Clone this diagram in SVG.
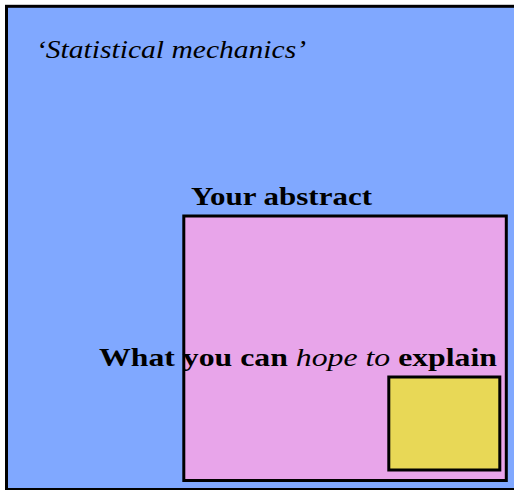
<svg xmlns="http://www.w3.org/2000/svg" width="514" height="490" viewBox="0 0 514 490">
<style>
.box{stroke:#000;stroke-width:3}
.t{font-family:"Liberation Serif","DejaVu Serif",serif;fill:#000;font-size:25px}
.b{font-weight:bold}
.i{font-style:italic}
</style>
<rect width="514" height="490" fill="#fff"/>
<g id="statmech">
<rect class="box" x="6.5" y="6.3" width="510" height="483.2" fill="#80A8FF" stroke-width="3.5"/>
<text class="t i" x="36" y="58" textLength="270" lengthAdjust="spacingAndGlyphs">‘Statistical mechanics’</text>
</g>
<g id="abstract">
<rect class="box" x="183.8" y="216" width="322.5" height="264.5" fill="#E8A5EA"/>
<text class="t b" x="191" y="205" textLength="181" lengthAdjust="spacingAndGlyphs">Your abstract</text>
</g>
<g id="explain">
<rect class="box" x="388.8" y="377" width="111" height="93" fill="#E8D856"/>
<text class="t b" x="99" y="366" textLength="398" lengthAdjust="spacingAndGlyphs">What you can <tspan class="i" font-weight="normal">hope to</tspan> explain</text>
</g>
<g id="connectors"/>
</svg>
